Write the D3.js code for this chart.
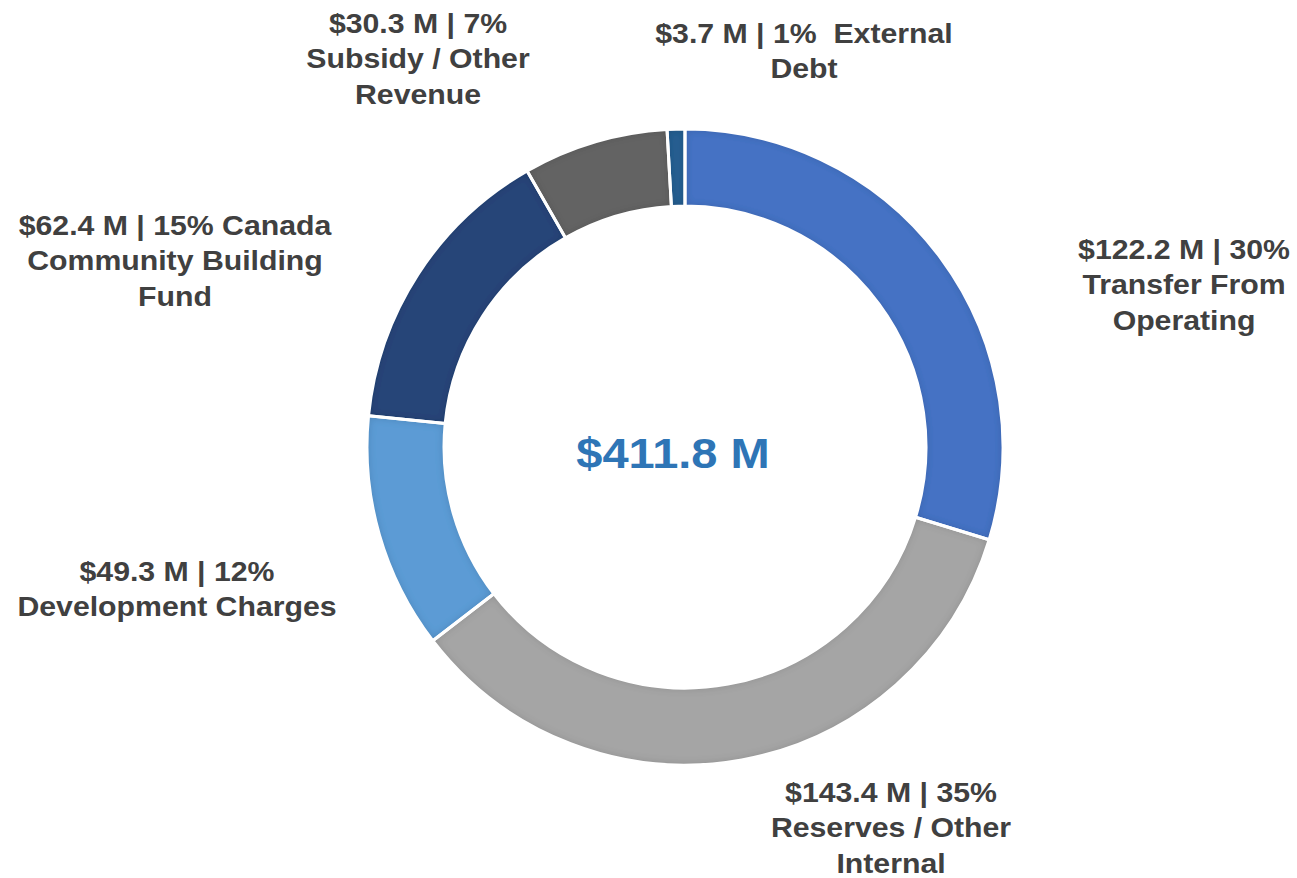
<!DOCTYPE html>
<html>
<head>
<meta charset="utf-8">
<script src="https://cdn.jsdelivr.net/npm/d3@7"></script>
<style>
  html, body { margin: 0; padding: 0; background: #ffffff; }
  svg { display: block; }
  text { font-family: "Liberation Sans", Arial, sans-serif; font-weight: bold; white-space: pre; }
</style>
</head>
<body>
<svg id="chart" width="1297" height="878"></svg>
<script>
// Capital funding sources ($ millions), clockwise from 12 o'clock
const sources = ["Transfer From Operating", "Reserves / Other Internal", "Development Charges",
                 "Canada Community Building Fund", "Subsidy / Other Revenue", "External Debt"];
const amounts = [122.2, 143.4, 49.3, 62.4, 30.3, 3.7];
const colours = ["#4472C4", "#A5A5A5", "#5B9BD5", "#264478", "#636363", "#255E91"];
const labelLines = [
  ["$122.2 M | 30%", "Transfer From", "Operating"],
  ["$143.4 M | 35%", "Reserves / Other", "Internal"],
  ["$49.3 M | 12%", "Development Charges"],
  ["$62.4 M | 15% Canada", "Community Building", "Fund"],
  ["$30.3 M | 7%", "Subsidy / Other", "Revenue"],
  ["$3.7 M | 1%  External", "Debt"]
];
const totalLabel = "$411.8 M";

const svg = d3.select("#chart");
const cx = 685, cy = 447, outerR = 318, innerR = 241;

// soft inner shading along each segment's edges
const defs = svg.append("defs");
const f = defs.append("filter").attr("id", "inset").attr("x", "-10%").attr("y", "-10%")
  .attr("width", "120%").attr("height", "120%");
f.append("feGaussianBlur").attr("in", "SourceAlpha").attr("stdDeviation", 5).attr("result", "blur");
f.append("feComposite").attr("in", "SourceAlpha").attr("in2", "blur")
  .attr("operator", "arithmetic").attr("k2", 1).attr("k3", -1).attr("result", "edge");
f.append("feFlood").attr("flood-color", "#000").attr("flood-opacity", 0.35).attr("result", "col");
f.append("feComposite").attr("in", "col").attr("in2", "edge").attr("operator", "in").attr("result", "shade");
f.append("feComposite").attr("in", "shade").attr("in2", "SourceGraphic").attr("operator", "atop");

const pie = d3.pie().sort(null).value(d => d);
const arc = d3.arc().innerRadius(innerR).outerRadius(outerR);

const g = svg.append("g").attr("transform", `translate(${cx},${cy})`);
g.selectAll("path.slice")
  .data(pie(amounts))
  .join("path")
  .attr("class", "slice")
  .attr("d", arc)
  .attr("fill", (d, i) => colours[i])
  .attr("filter", "url(#inset)");

// white separators between segments
g.selectAll("path.sep")
  .data(pie(amounts))
  .join("path")
  .attr("class", "sep")
  .attr("d", arc)
  .attr("fill", "none")
  .attr("stroke", "#ffffff")
  .attr("stroke-width", 3)
  .attr("stroke-linejoin", "round");

// centre total
svg.append("text")
  .attr("transform", `translate(${cx - 12},${cy + 21}) scale(1.12,1)`)
  .attr("text-anchor", "middle")
  .attr("font-size", 42)
  .attr("fill", "#2E75B6")
  .text(totalLabel);

// segment labels: centre x and first baseline
const labelPos = [
  [1184, 259], [891, 802], [177, 581], [175, 235], [418, 33], [804, 43]
];
const lineGap = 35.5;
labelLines.forEach((lines, i) => {
  const [lx, ly] = labelPos[i];
  const t = svg.append("text")
    .attr("transform", `translate(${lx},${ly}) scale(1.08,1)`)
    .attr("text-anchor", "middle")
    .attr("font-size", 28)
    .attr("fill", "#404040");
  lines.forEach((s, j) => {
    t.append("tspan").attr("x", 0).attr("y", j * lineGap).text(s);
  });
});
</script>
</body>
</html>
